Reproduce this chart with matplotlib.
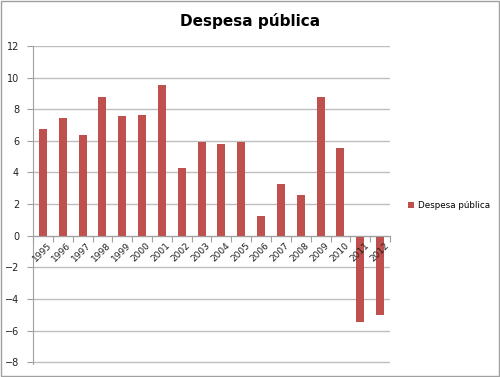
import numpy as np
import matplotlib.pyplot as plt

anos = ['1995', '1996', '1997', '1998', '1999', '2000', '2001', '2002', '2003',
        '2004', '2005', '2006', '2007', '2008', '2009', '2010', '2011', '2012']
despesa = [6.75, 7.45, 6.4, 8.8, 7.6, 7.65, 9.55, 4.3, 5.9,
           5.8, 5.9, 1.25, 3.3, 2.6, 8.8, 5.55, -5.45, -5.0]

fig = plt.figure(figsize=(5, 3.77), dpi=100)
ax = fig.add_axes([0.066, 0.035, 0.714, 0.843])

x = np.arange(len(anos))
ax.bar(x, despesa, width=0.4, color='#C0504D', zorder=3, label='Despesa pública')

ax.set_xlim(-0.5, len(anos) - 0.5)
ax.set_ylim(-8.1, 12)
ax.set_yticks(np.arange(-8, 13, 2))
ax.yaxis.grid(True, color='#BEBEBE', lw=1, zorder=0)

for s in ['top', 'right']:
    ax.spines[s].set_visible(False)
ax.spines['left'].set_color('#A0A0A0')
ax.spines['bottom'].set_color('#A0A0A0')
ax.spines['bottom'].set_position(('data', 0))
ax.spines['bottom'].set_zorder(4)

ax.set_xticks(np.arange(-0.5, len(anos), 1))
ax.set_xticklabels([])
ax.tick_params(axis='x', length=4, color='#A0A0A0')
ax.tick_params(axis='y', length=4, color='#A0A0A0', labelsize=7, labelcolor='#222222', pad=6)
for i, a in enumerate(anos):
    ax.text(i + 0.2, -0.35, a, rotation=45, ha='right', va='top',
            rotation_mode='anchor', fontsize=6.5, color='#222222', zorder=5)

fig.text(0.5, 0.945, 'Despesa pública', ha='center', va='center',
         fontsize=11, fontweight='bold')
fig.legend(loc='center left', bbox_to_anchor=(0.8, 0.455), frameon=False,
           fontsize=6.3, handlelength=0.7, handleheight=0.7, handletextpad=0.4)

fig.patches.append(plt.Rectangle((0.002, 0.003), 0.995, 0.994, transform=fig.transFigure,
                                 fill=False, edgecolor='#A0A0A0', lw=1))

fig.savefig('out.png', dpi=100)
